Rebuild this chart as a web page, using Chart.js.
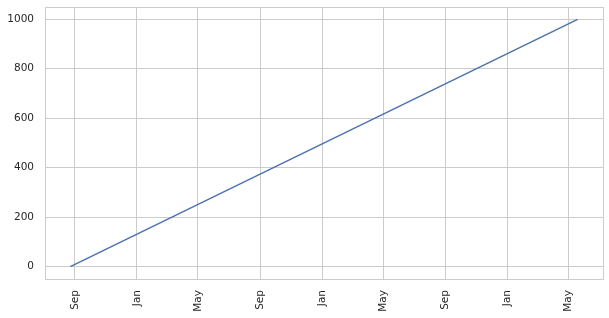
<!DOCTYPE html>
<html>
<head>
<meta charset="utf-8">
<script src="https://cdn.jsdelivr.net/npm/chart.js@4/dist/chart.umd.min.js"></script>
<style>
    html, body { margin: 0; padding: 0; background: #fff; }
    #wrap { width: 609px; height: 318px; }
</style>
</head>
<body>
<div id="wrap"><canvas id="chart"></canvas></div>
<script>
// series: one value per day, a straight line from 0 to 999
const seriesDates = ['2020-08-23', '2023-05-19'];
const seriesValues = [0, 999];

const tickDates = ['2020-09-01', '2021-01-01', '2021-05-01', '2021-09-01', '2022-01-01',
    '2022-05-01', '2022-09-01', '2023-01-01', '2023-05-01'];
const tickLabels = ['Sep', 'Jan', 'May', 'Sep', 'Jan', 'May', 'Sep', 'Jan', 'May'];
const yTicks = [0, 200, 400, 600, 800, 1000];

const DAY = 86400000;
const toDay = d => Date.parse(d) / DAY;

const xs = seriesDates.map(toDay);
const xMargin = (xs[xs.length - 1] - xs[0]) * 0.05;
const yMargin = (seriesValues[seriesValues.length - 1] - seriesValues[0]) * 0.05;
const tickDays = tickDates.map(toDay);

const gridColor = '#cccccc';
const textColor = '#262626';
const font = {family: 'DejaVu Sans', size: 10.5};

const frame = {
    id: 'frame',
    afterDraw(chart) {
        const a = chart.chartArea;
        const ctx = chart.ctx;
        ctx.save();
        ctx.strokeStyle = gridColor;
        ctx.lineWidth = 1;
        ctx.strokeRect(Math.round(a.left) + 0.5, Math.round(a.top) + 0.5,
            Math.round(a.right - a.left), Math.round(a.bottom - a.top));
        ctx.restore();
    }
};

new Chart(document.getElementById('chart').getContext('2d'), {
    type: 'line',
    data: {
        datasets: [{
            data: xs.map((x, i) => ({x: x, y: seriesValues[i]})),
            borderColor: '#4c72b0',
            borderWidth: 1.5,
            pointRadius: 0,
            tension: 0
        }]
    },
    options: {
        responsive: true,
        maintainAspectRatio: false,
        animation: false,
        layout: {padding: {top: 7, right: 6, left: 0, bottom: 0}},
        plugins: {legend: {display: false}, tooltip: {enabled: false}},
        scales: {
            x: {
                type: 'linear',
                min: xs[0] - xMargin,
                max: xs[xs.length - 1] + xMargin,
                afterBuildTicks: s => { s.ticks = tickDays.map(v => ({value: v})); },
                afterFit: s => { s.height = 39; s.paddingLeft = 0; s.paddingRight = 0; },
                grid: {color: gridColor, drawTicks: false},
                border: {display: false},
                ticks: {
                    autoSkip: false,
                    minRotation: 90,
                    maxRotation: 90,
                    padding: 11,
                    color: textColor,
                    font: font,
                    callback: (v, i) => tickLabels[i]
                }
            },
            y: {
                min: seriesValues[0] - yMargin,
                max: seriesValues[seriesValues.length - 1] + yMargin,
                afterBuildTicks: s => { s.ticks = yTicks.map(v => ({value: v})); },
                afterFit: s => { s.width = 45; s.paddingTop = 0; s.paddingBottom = 0; },
                grid: {color: gridColor, drawTicks: false},
                border: {display: false},
                ticks: {
                    padding: 11,
                    color: textColor,
                    font: font,
                    callback: v => String(v)
                }
            }
        }
    },
    plugins: [frame]
});
</script>
</body>
</html>
